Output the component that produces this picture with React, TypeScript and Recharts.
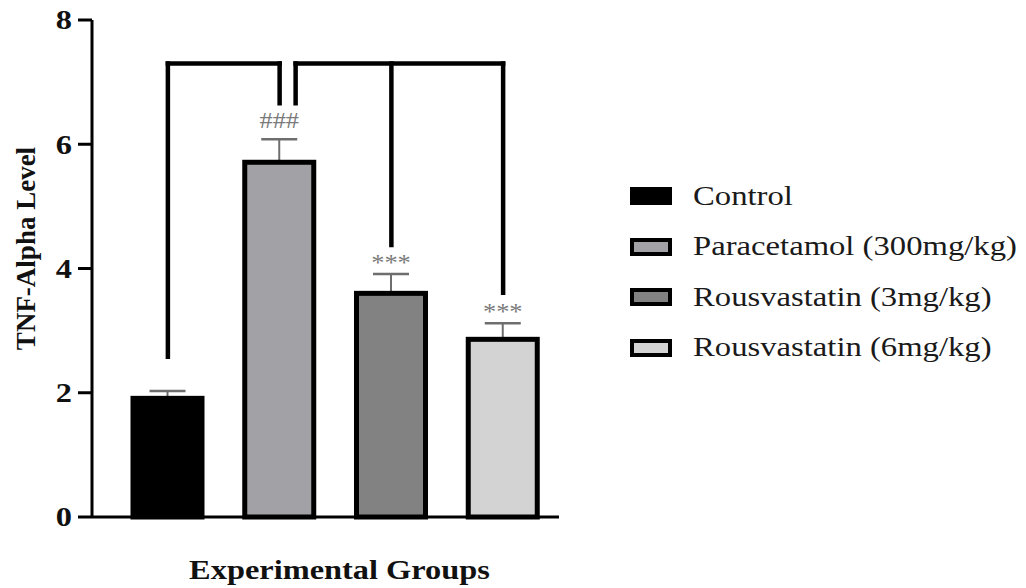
import { BarChart, Bar, XAxis, YAxis, Cell, ReferenceLine, Legend } from 'recharts';

const SERIF = "'Liberation Serif', 'Times New Roman', serif";

// group means and SEM of TNF-alpha
const GROUPS = ['Control', 'Paracetamol (300mg/kg)', 'Rousvastatin (3mg/kg)', 'Rousvastatin (6mg/kg)'];
const MEANS = [1.91, 5.71, 3.6, 2.86];
const ERRORS = [0.12, 0.37, 0.31, 0.26];
const SIG_MARKS = ['', '###', '***', '***'];
const FILLS = ['#000000', '#a2a2a6', '#828282', '#d3d3d3'];
const Y_TICKS = [0, 2, 4, 6, 8];

// comparison brackets: common top and where each leg stops
const BRACKET_Y = 7.3;
const LEG_ENDS = [2.58, 6.66, 4.38, 3.61];

const data = GROUPS.map((group, i) => ({ group, mean: MEANS[i], err: ERRORS[i], sig: SIG_MARKS[i] }));

type Seg = { a: [string, number]; b: [string, number]; dx1?: number; dx2?: number };

const segments: Seg[] = [
  // Control vs Paracetamol
  { a: [GROUPS[0], LEG_ENDS[0]], b: [GROUPS[0], BRACKET_Y] },
  { a: [GROUPS[0], BRACKET_Y], b: [GROUPS[1], BRACKET_Y] },
  { a: [GROUPS[1], LEG_ENDS[1]], b: [GROUPS[1], BRACKET_Y] },
  // Paracetamol vs treatments, nudged right of the first bracket
  { a: [GROUPS[1], LEG_ENDS[1]], b: [GROUPS[1], BRACKET_Y], dx1: 16, dx2: 16 },
  { a: [GROUPS[1], BRACKET_Y], b: [GROUPS[3], BRACKET_Y], dx1: 16 },
  { a: [GROUPS[2], LEG_ENDS[2]], b: [GROUPS[2], BRACKET_Y] },
  { a: [GROUPS[3], LEG_ENDS[3]], b: [GROUPS[3], BRACKET_Y] },
];

const bracketShape = (dx1 = 0, dx2 = 0) => (p: any) => (
  <line
    x1={p.x1 + dx1}
    y1={p.y1}
    x2={p.x2 + dx2}
    y2={p.y2}
    stroke="#000"
    strokeWidth={4.5}
    strokeLinecap="square"
  />
);

// bar with one-sided SEM whisker and significance mark above it
const MeanBar = (props: any) => {
  const { x, y, width, height, fill, payload } = props;
  const perUnit = height / payload.mean;
  const top = y - payload.err * perUnit;
  const cx = x + width / 2;
  const lift = payload.sig.includes('#') ? 11 : 4;
  return (
    <g>
      <line x1={cx} y1={y} x2={cx} y2={top} stroke="#6e6e6e" strokeWidth={2} />
      <line x1={cx - 18} y1={top} x2={cx + 18} y2={top} stroke="#6e6e6e" strokeWidth={2.5} />
      <rect x={x} y={y} width={width} height={height} fill={fill} stroke="#000" strokeWidth={5} />
      {payload.sig && (
        <text
          transform={`translate(${cx},${top - lift}) scale(1.1,1)`}
          textAnchor="middle"
          fontFamily={SERIF}
          fontSize={24}
          fill="#7a7a7a"
        >
          {payload.sig}
        </text>
      )}
    </g>
  );
};

const YTick = (props: any) => {
  const { x, y, payload } = props;
  return (
    <text
      transform={`translate(${x},${y}) scale(1.2,1)`}
      textAnchor="end"
      dy="0.35em"
      fontFamily={SERIF}
      fontWeight="bold"
      fontSize={27}
      fill="#111"
    >
      {payload.value}
    </text>
  );
};

const yTitle = (p: any) => {
  const vb = p.viewBox || { x: 8, y: 20, width: 84, height: 497 };
  return (
    <text
      transform={`translate(${vb.x + 27},${vb.y + vb.height / 2 - 20}) rotate(-90)`}
      textAnchor="middle"
      fontFamily={SERIF}
      fontWeight="bold"
      fontSize={27}
      fill="#111"
    >
      TNF-Alpha Level
    </text>
  );
};

const xTitle = (p: any) => {
  const vb = p.viewBox || { x: 92, y: 517, width: 467, height: 71 };
  return (
    <text
      transform={`translate(${vb.x + vb.width / 2 + 14},${vb.y + 62}) scale(1.2,1)`}
      textAnchor="middle"
      fontFamily={SERIF}
      fontWeight="bold"
      fontSize={27}
      fill="#111"
    >
      Experimental Groups
    </text>
  );
};

const GroupLegend = () => (
  <div style={{ fontFamily: SERIF }}>
    {GROUPS.map((g, i) => (
      <div key={g} style={{ display: 'flex', alignItems: 'center', height: 50.5 }}>
        <span
          style={{
            width: 42,
            height: 18,
            boxSizing: 'border-box',
            border: '4px solid #000',
            background: FILLS[i],
            flex: 'none',
          }}
        />
        <span
          style={{
            marginLeft: 21,
            fontSize: 27,
            color: '#1a1a1a',
            display: 'inline-block',
            whiteSpace: 'nowrap',
            transform: 'scaleX(1.21)',
            transformOrigin: 'left center',
          }}
        >
          {g}
        </span>
      </div>
    ))}
  </div>
);

export default function App() {
  return (
    <div style={{ position: 'relative', width: 1018, height: 588, margin: '-8px 0 0 -8px' }}>
      <BarChart width={1018} height={588} data={data} margin={{ top: 20, right: 459, bottom: 0, left: 8 }}>
        <YAxis
          domain={[0, 8]}
          ticks={Y_TICKS}
          width={84}
          tickSize={14}
          tickMargin={6}
          tick={<YTick />}
          axisLine={{ stroke: '#000', strokeWidth: 3 }}
          tickLine={{ stroke: '#000', strokeWidth: 3 }}
          label={yTitle}
        />
        <XAxis
          dataKey="group"
          height={71}
          padding={{ left: 20, right: 0 }}
          tick={false}
          tickLine={false}
          axisLine={{ stroke: '#000', strokeWidth: 3 }}
          label={xTitle}
        />
        <Bar dataKey="mean" barSize={69} isAnimationActive={false} shape={(p: any) => <MeanBar {...p} />}>
          {data.map((d, i) => (
            <Cell key={d.group} fill={FILLS[i]} />
          ))}
        </Bar>
        {segments.map((s, i) => (
          <ReferenceLine
            key={i}
            segment={[
              { x: s.a[0], y: s.a[1] },
              { x: s.b[0], y: s.b[1] },
            ]}
            ifOverflow="visible"
            shape={bracketShape(s.dx1, s.dx2)}
          />
        ))}
        <Legend
          layout="vertical"
          align="center"
          verticalAlign="middle"
          wrapperStyle={{ left: 630, top: 171, width: 390 }}
          content={<GroupLegend />}
        />
      </BarChart>
    </div>
  );
}
